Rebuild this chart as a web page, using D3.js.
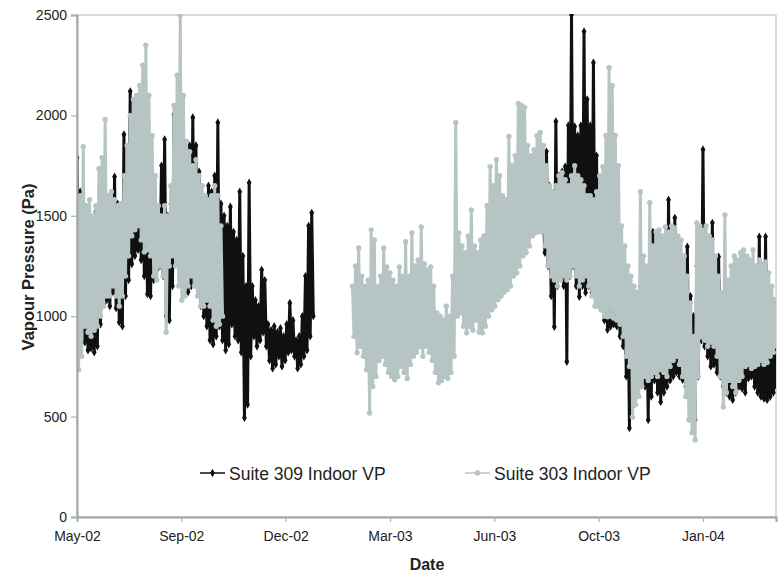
<!DOCTYPE html>
<html>
<head>
<meta charset="utf-8">
<script src="https://cdn.jsdelivr.net/npm/d3@7"></script>
<style>
  body { margin: 0; background: #fff; }
  text { font-family: 'Liberation Sans', Arial, sans-serif; }
</style>
</head>
<body>
<div id="chart"></div>
<script>
const WIDTH = 780;
const HEIGHT = 574;
const margin = { top: 15, right: 4, bottom: 57, left: 77 };

// axis
const AXIS_START = '2002-05-25';
const AXIS_END = '2004-03-25';
const tickDates = ['2002-05-25', '2002-09-02', '2002-12-11', '2003-03-21', '2003-06-29', '2003-10-07', '2004-01-15'];
const yTicks = [0, 500, 1000, 1500, 2000, 2500];
const seriesNames = ['Suite 309 Indoor VP', 'Suite 303 Indoor VP'];

// readings every 3 days: the daily peak, then the trough 36 h later (Pa)
const SAMPLE_HOURS = 72;

const suite309StartA = '2002-05-25';
const suite309HighA = [
  1790, 1620, 1560, 1500, 1450, 1480, 1520, 1440, 1500, 1560,
  1520, 1600, 1695, 1560, 1500, 1905, 1700, 2120, 1850, 1900,
  2045, 1950, 1850, 1780, 1650, 1500, 1450, 1750, 1880, 1500,
  1560, 2005, 1800, 1750, 1700, 1800, 1850, 1990, 1850, 1720,
  1600, 1550, 1650, 1620, 1700, 1965, 1560, 1500, 1450, 1545,
  1420, 1380, 1620, 1300, 1150, 1665, 1150, 1080, 1050, 1231,
  1180, 960, 930, 950, 920, 940, 900, 960, 1066, 980,
  880, 900, 1000, 1200, 1450, 1515,
];
const suite309LowA = [
  880, 1000, 870, 830, 840, 820, 850, 960, 1060, 1080,
  1050, 1120, 1040, 970, 950, 1100, 1180, 1260, 1300, 1330,
  1280, 1200, 1110, 1100, 1180, 1230, 1250, 1200, 1000, 980,
  1150, 1280, 1350, 1250, 1150, 1120, 1150, 1200, 1150, 1050,
  1000, 950, 880, 860, 900, 950, 880, 830, 860, 960,
  900, 880, 820, 494, 560, 800, 900, 850, 880, 920,
  850, 780, 740, 760, 800, 750, 780, 820, 830, 800,
  740, 760, 800, 830, 900, 1000,
];

const suite309StartB = '2003-08-15';
const suite309HighB = [
  1500, 1820, 1650, 1600, 1970, 1700, 1720, 1745, 1950, 2500,
  1945, 1900, 1950, 2418, 2080, 1950, 2263, 1800, 1665, 1600,
  1580, 1500, 1480, 1450, 1400, 1300, 1250, 1200, 1150, 1100,
  1100, 1150, 1200, 1150, 1200, 1420, 1200, 1150, 1200, 1250,
  1580, 1300, 1490, 1350, 1200, 1150, 1346, 1100, 1000, 1250,
  1300, 1830, 1400, 1350, 1465, 1250, 1296, 1100, 1050, 1000,
  1050, 1000, 1050, 1000, 1050, 1000, 1050, 1000, 1100, 1396,
  1100, 1396, 1100, 1000, 950,
];
const suite309LowB = [
  1316, 1250, 1100, 947, 1150, 1200, 1150, 773, 1200, 1250,
  1150, 1097, 1150, 1117, 1150, 1117, 1150, 1100, 1050, 980,
  932, 950, 960, 950, 900, 850, 700, 443, 550, 600,
  650, 700, 650, 483, 600, 680, 620, 573, 620, 650,
  680, 700, 720, 700, 683, 650, 600, 520, 483, 700,
  880, 850, 800, 750, 760, 720, 700, 650, 620, 600,
  583, 620, 650, 640, 620, 690, 700, 650, 620, 600,
  590, 583, 600, 620, 650,
];

const suite303StartA = '2002-05-25';
const suite303HighA = [
  1580, 1600, 1845, 1550, 1580, 1500, 1550, 1735, 1790, 1980,
  1600, 1620, 1580, 1550, 1560, 1700, 1850, 2000, 2080, 2100,
  2150, 2250, 2350, 2100, 1900, 1700, 1550, 1500, 1550, 1500,
  1650, 2050, 2200, 2500, 2100, 1870, 1820, 1750, 1780, 1700,
  1650, 1600, 1580, 1600, 1650, 1600, 1450,
];
const suite303LowA = [
  733, 800, 950, 920, 900, 930, 950, 1000, 1050, 1100,
  1100, 1150, 1100, 1050, 1100, 1200, 1300, 1400, 1430, 1450,
  1380, 1320, 1330, 1300, 1200, 1180, 1250, 1200, 920, 1250,
  1300, 1250, 1150, 1080, 1100, 1150, 1200, 1150, 1100, 1050,
  1050, 1080, 1050, 980, 950, 960, 1000,
];

const suite303StartB = '2003-02-13';
const suite303HighB = [
  1150, 1250, 1340, 1200, 1150, 1180, 1430, 1380, 1147, 1200,
  1340, 1246, 1216, 1180, 1150, 1246, 1200, 1371, 1200, 1415,
  1250, 1280, 1445, 1260, 1230, 1246, 1150, 1017, 1000, 982,
  1050, 1000, 1200, 1965, 1415, 1350, 1316, 1400, 1530, 1350,
  1316, 1380, 1400, 1550, 1745, 1650, 1780, 1700, 1600, 1580,
  1895, 1750, 1800, 2060, 2050, 2040, 1850, 1800, 1830, 1900,
  1915, 1850, 1750, 1650, 1620, 1650, 1700, 1715, 1680, 1650,
  1700, 1750, 1700, 1680, 1650, 1600, 1600, 1580, 1620, 1700,
  1745, 1900, 2238, 2150, 1900, 1750, 1450, 1350, 1250, 1200,
  1150, 1120, 1620, 1300, 1250, 1565, 1350, 1420, 1430, 1400,
  1445, 1420, 1450, 1440, 1400, 1380, 1300, 1200, 1066, 900,
  1465, 1450, 1430, 1450, 1400, 1380, 1300, 1200, 1117, 1505,
  1180, 1250, 1300, 1280, 1316, 1330, 1300, 1280, 1330, 1250,
  1280, 1260, 1270, 1216, 1150, 1082,
];
const suite303LowB = [
  900, 818, 850, 800, 733, 518, 650, 700, 780, 800,
  760, 720, 700, 683, 700, 750, 720, 690, 760, 800,
  820, 847, 800, 850, 820, 780, 720, 668, 680, 700,
  690, 720, 800, 1000, 1017, 950, 917, 950, 930, 980,
  920, 917, 950, 1000, 1032, 1050, 1082, 1100, 1120, 1132,
  1150, 1200, 1216, 1250, 1300, 1316, 1350, 1400, 1415, 1420,
  1420, 1350, 1250, 1200, 1180, 1150, 1180, 1200, 1180, 1200,
  1250, 1200, 1150, 1180, 1200, 1150, 1100, 1050, 1050, 1030,
  1000, 997, 1000, 990, 980, 960, 900, 800, 750, 498,
  560, 600, 650, 700, 680, 700, 720, 700, 733, 720,
  700, 750, 780, 800, 760, 700, 600, 483, 420, 384,
  700, 897, 880, 850, 870, 850, 800, 700, 548, 620,
  680, 650, 620, 680, 700, 750, 760, 740, 750, 760,
  780, 760, 770, 800, 820, 850,
];

const parse = d3.utcParse('%Y-%m-%d');

// peak / trough pairs -> one zig-zag run of readings
function buildPoints(start, highs, lows) {
  const t0 = parse(start);
  const pts = [];
  highs.forEach((h, i) => {
    pts.push({ date: d3.utcHour.offset(t0, i * SAMPLE_HOURS), value: h });
    pts.push({ date: d3.utcHour.offset(t0, i * SAMPLE_HOURS + SAMPLE_HOURS / 2), value: lows[i] });
  });
  return pts;
}

const series = [
  {
    name: seriesNames[0],
    color: '#101010',
    symbol: d3.symbolDiamond,
    size: 20,
    segments: [
      buildPoints(suite309StartA, suite309HighA, suite309LowA),
      buildPoints(suite309StartB, suite309HighB, suite309LowB),
    ],
  },
  {
    name: seriesNames[1],
    color: '#b6c4c3',
    symbol: d3.symbolCircle,
    size: 22,
    segments: [
      buildPoints(suite303StartA, suite303HighA, suite303LowA),
      buildPoints(suite303StartB, suite303HighB, suite303LowB),
    ],
  },
];

const svg = d3
  .select('#chart')
  .append('svg')
  .attr('width', WIDTH)
  .attr('height', HEIGHT)
  .style('background', '#fff');

const x = d3
  .scaleUtc()
  .domain([parse(AXIS_START), parse(AXIS_END)])
  .range([margin.left, WIDTH - margin.right]);

const y = d3
  .scaleLinear()
  .domain([0, 2500])
  .range([HEIGHT - margin.bottom, margin.top]);

svg
  .append('clipPath')
  .attr('id', 'plot-clip')
  .append('rect')
  .attr('x', margin.left)
  .attr('y', margin.top - 1)
  .attr('width', WIDTH - margin.left - margin.right)
  .attr('height', HEIGHT - margin.top - margin.bottom + 1);

// plot frame (top / right)
svg
  .append('rect')
  .attr('x', margin.left)
  .attr('y', margin.top)
  .attr('width', WIDTH - margin.left - margin.right)
  .attr('height', HEIGHT - margin.top - margin.bottom)
  .attr('fill', 'none')
  .attr('stroke', '#c4c4c4')
  .attr('stroke-width', 1.2);

const plot = svg.append('g').attr('clip-path', 'url(#plot-clip)');

const line = d3
  .line()
  .x((d) => x(d.date))
  .y((d) => y(d.value));

// series drawn in order, 303 ends up on top of 309
series.forEach((s) => {
  const g = plot.append('g').attr('class', 'series');

  g.selectAll('path.run')
    .data(s.segments)
    .enter()
    .append('path')
    .attr('class', 'run')
    .attr('d', line)
    .attr('fill', 'none')
    .attr('stroke', s.color)
    .attr('stroke-width', 3)
    .attr('stroke-linejoin', 'round');

  g.selectAll('path.marker')
    .data(s.segments.flat())
    .enter()
    .append('path')
    .attr('class', 'marker')
    .attr('d', d3.symbol().type(s.symbol).size(s.size))
    .attr('transform', (d) => `translate(${x(d.date)},${y(d.value)})`)
    .attr('fill', s.color);
});

// axes
const yAxis = svg
  .append('g')
  .attr('transform', `translate(${margin.left},0)`)
  .call(d3.axisLeft(y).tickValues(yTicks).tickFormat(d3.format('d')).tickSize(6).tickPadding(4));

const xAxis = svg
  .append('g')
  .attr('transform', `translate(0,${HEIGHT - margin.bottom})`)
  .call(
    d3
      .axisBottom(x)
      .tickValues(tickDates.map(parse))
      .tickFormat(d3.utcFormat('%b-%y'))
      .tickSize(5)
      .tickPadding(9)
  );

[yAxis, xAxis].forEach((ax) => {
  ax.select('.domain').attr('stroke', '#a4a4a4').attr('stroke-width', 2);
  ax.selectAll('.tick line').attr('stroke', '#b0b0b0').attr('stroke-width', 1.2);
  ax.selectAll('.tick text')
    .attr('fill', '#222')
    .style('font-size', '14px')
    .style('font-family', "'Liberation Sans', Arial, sans-serif");
});

svg
  .append('text')
  .attr('transform', 'translate(34,267) rotate(-90)')
  .attr('text-anchor', 'middle')
  .style('font-size', '16.5px')
  .style('font-weight', 'bold')
  .attr('fill', '#222')
  .text('Vapour Pressure (Pa)');

svg
  .append('text')
  .attr('x', 427)
  .attr('y', 570)
  .attr('text-anchor', 'middle')
  .style('font-size', '16px')
  .style('font-weight', 'bold')
  .attr('fill', '#222')
  .text('Date');

// legend
const legendX = [200, 465];
const legend = svg
  .append('g')
  .attr('class', 'legend')
  .selectAll('g')
  .data(series)
  .enter()
  .append('g')
  .attr('transform', (d, i) => `translate(${legendX[i]},473)`);

legend
  .append('line')
  .attr('x1', 0)
  .attr('x2', 25)
  .attr('y1', 0)
  .attr('y2', 0)
  .attr('stroke', (d) => d.color)
  .attr('stroke-width', 1.5);

legend
  .append('path')
  .attr('d', (d) => d3.symbol().type(d.symbol).size(d.size)())
  .attr('transform', 'translate(12.5,0)')
  .attr('fill', (d) => d.color);

legend
  .append('text')
  .attr('x', 29)
  .attr('y', 6.5)
  .style('font-size', '17.5px')
  .attr('fill', '#222')
  .text((d) => d.name);
</script>
</body>
</html>
